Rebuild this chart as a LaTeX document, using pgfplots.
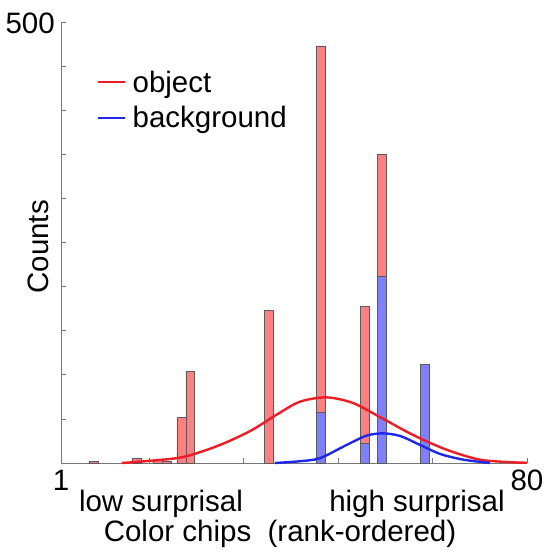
\documentclass[border=0pt]{standalone}
\usepackage{pgfplots}
\pgfplotsset{compat=1.18}
\usepackage{fontspec}
\setmainfont{Liberation Sans}
\definecolor{barred}{RGB}{255,128,128}
\definecolor{barblue}{RGB}{128,128,255}
\definecolor{curvered}{RGB}{238,28,36}
\definecolor{curveblue}{RGB}{30,40,235}
\definecolor{axgray}{RGB}{120,120,120}
\definecolor{edgegray}{RGB}{90,90,90}
\newcommand{\bigf}{\fontsize{29.5}{35}\selectfont}
\begin{document}
\begin{tikzpicture}
\begin{axis}[
  scale only axis,
  width=466pt, height=441pt,
  xmin=1, xmax=80, ymin=0, ymax=500,
  axis lines=left,
  axis line style={-, axgray, line width=0.8pt},
  tick style={axgray, line width=0.8pt},
  tick align=inside,
  major tick length=5pt,
  xtick={1,16,32,48,64,80},
  xticklabels={1,,,,,80},
  ytick={0,50,...,500},
  yticklabels={,,,,,,,,,,500},
  xticklabel style={font=\bigf, inner sep=0pt, anchor=base, yshift=-27pt},
  yticklabel style={font=\bigf, inner sep=0pt, anchor=base east, xshift=-6pt, yshift=-11pt},
  ylabel={Counts},
  ylabel style={font=\bigf, at={(axis description cs:-0.049,0.49)}, anchor=center},
  clip=false,
  legend style={draw=none, fill=none, font=\bigf, at={(axis description cs:0.0773,0.897)}, anchor=north west, row sep=7pt, inner sep=0pt, nodes={inner sep=3pt}, /tikz/every odd column/.append style={column sep=3pt}},
  legend cell align=left,
  legend image code/.code={\draw[#1] (0pt,0pt) -- (27pt,0pt);},
]
\addplot[ybar, bar width=1.5, bar shift=0pt, fill=barred, draw=edgegray, line width=0.5pt, forget plot]
  coordinates {(6.5,2) (13.9,5) (17.4,3) (18.9,2) (21.4,52) (22.9,104) (36.2,173) (45.0,473) (52.45,178) (55.33,350)};
\addplot[ybar, bar width=1.5, bar shift=0pt, fill=barblue, draw=edgegray, line width=0.5pt, forget plot]
  coordinates {(45.0,57) (52.45,22) (55.33,212) (62.7,112)};
\addplot[curvered, line width=2.4pt, smooth]
  coordinates {(11.3,0) (16.1,2.5) (21.7,6.8) (27.4,19) (33.0,36) (37.6,55) (41.5,69.5) (46.0,74.4) (50.5,68) (55.1,52) (60.7,31.7) (66.4,15) (72.0,3.8) (77.6,0.8) (80,0.3)};
\addlegendentry{object}
\addplot[curveblue, line width=2.4pt, smooth]
  coordinates {(37.3,0) (41.5,2) (44.9,5.5) (49.4,20.4) (52.8,31) (55.6,33.6) (58.5,30.6) (61.9,20.4) (65.3,10.2) (69.2,3.8) (73.7,0)};
\addlegendentry{background}
\node[font=\bigf, anchor=base, inner sep=0pt] at (axis description cs:0.2146,-0.111) {low surprisal};
\node[font=\bigf, anchor=base, inner sep=0pt] at (axis description cs:0.764,-0.111) {high surprisal};
\node[font=\bigf, anchor=base, inner sep=0pt] at (axis description cs:0.47,-0.179) {Color chips\ \ (rank-ordered)};
\end{axis}
\pgfresetboundingbox
\path[use as bounding box] (-61pt,-89pt) rectangle (486pt,463pt);
\end{tikzpicture}
\end{document}
